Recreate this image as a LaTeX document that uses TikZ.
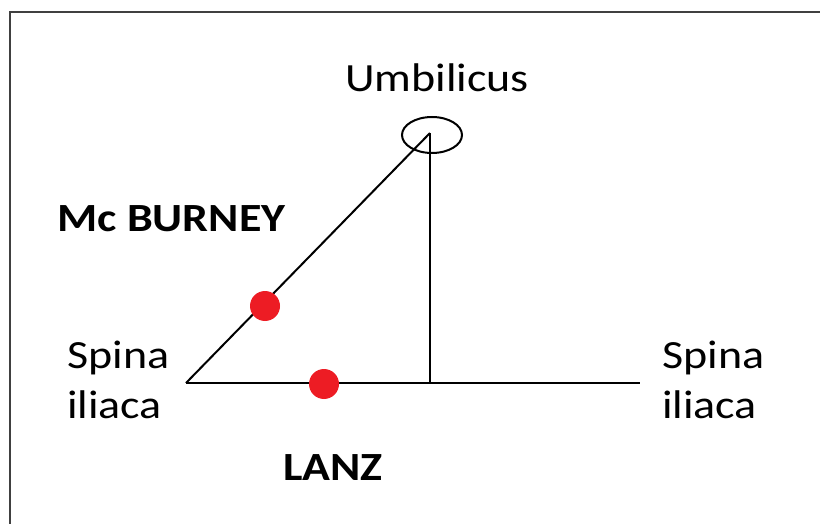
\documentclass[tikz,border=0pt]{standalone}
\usepackage{fontspec}
\setmainfont{Carlito}
\usepackage{tikz}
\usepackage{xcolor}
\usetikzlibrary{shapes.geometric}
\definecolor{dotred}{HTML}{ED1C24}
\definecolor{framegray}{HTML}{404040}

\begin{document}
\begin{tikzpicture}[x=1pt,y=-1pt,
  lbl/.style={inner sep=0pt,anchor=base west,xscale=1.15,transform shape,font=\fontsize{40}{50}\selectfont},
  boldlbl/.style={lbl,font=\fontsize{40}{50}\selectfont\bfseries},
  dot/.style={circle,fill=dotred,inner sep=0pt,minimum size=30pt}]
  \useasboundingbox (0,0) rectangle (820,524);
  \draw[framegray,line width=2.5pt] (10,524)--(10,12)--(820,12);
  % points on the skin
  \coordinate (spinaL) at (186,383);
  \coordinate (spinaR) at (640,383);
  \coordinate (foot) at (430,383);
  \coordinate (top) at (430,133);
  \node[ellipse,draw,line width=2pt,minimum width=60pt,minimum height=36pt,inner sep=0pt] (umb) at (432,135) {};
  \draw[line width=2pt] (spinaL)--(spinaR);
  \draw[line width=2pt] (foot)--(top);
  \draw[line width=2pt] (spinaL)--(top);
  \node[dot] (mcb) at (265,306) {};
  \node[dot] (lanz) at (324,384) {};
  \node[lbl] (umblbl) at (345,92) {Umbilicus};
  \node[boldlbl] (mcblbl) at (57,232) {Mc BURNEY};
  \node[boldlbl] (lanzlbl) at (283,480) {LANZ};
  \node[lbl] (sl1) at (67,368) {Spina};
  \node[lbl] (sl2) at (67,418) {iliaca};
  \node[lbl] (sr1) at (662,368) {Spina};
  \node[lbl] (sr2) at (662,418) {iliaca};
\end{tikzpicture}
\end{document}
